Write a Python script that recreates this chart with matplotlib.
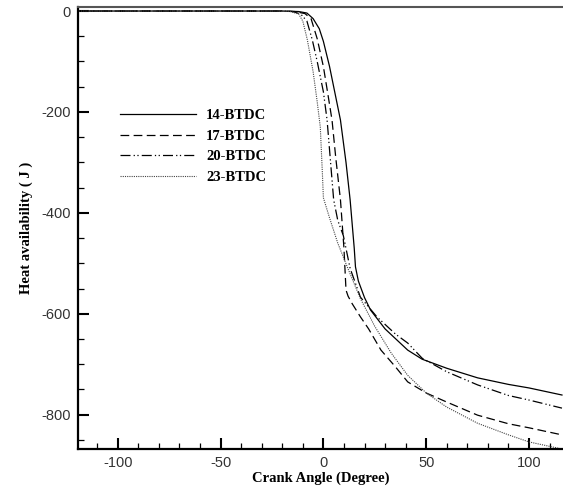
import numpy as np
import matplotlib
matplotlib.use("Agg")
import matplotlib.pyplot as plt
from matplotlib.ticker import MultipleLocator

plt.rcParams['axes.unicode_minus'] = False

# valeurs (angle vilebrequin, disponibilite de chaleur)
x14 = [-120, -20, -12, -8, -5, -2, 0, 3, 6, 8.3, 11, 13, 15, 15.6, 17, 20, 23, 30, 41, 48, 60, 75, 90, 100, 116]
y14 = [0, 0, -1, -4, -15, -35, -60, -110, -170, -216, -300, -374, -470, -507, -535, -568, -593, -630, -672, -690, -708, -727, -740, -747, -761]

x17 = [-120, -20, -14, -9, -6, -3, 0, 2, 4.2, 6, 8.3, 10, 11, 12, 14, 18, 22, 28, 35, 41, 50, 60, 75, 90, 100, 116]
y17 = [0, 0, -1, -5, -15, -55, -110, -160, -216, -290, -374, -470, -553, -565, -580, -606, -630, -672, -705, -735, -757, -775, -801, -818, -826, -840]

x20 = [-120, -20, -15, -11, -8, -5.4, -3, 0, 1.8, 3.5, 5, 7, 9.7, 13, 18, 26, 35, 41, 48, 60, 75, 90, 100, 116]
y20 = [0, 0, -1, -6, -20, -57, -100, -160, -216, -300, -374, -415, -445, -510, -567, -606, -640, -658, -688, -715, -741, -762, -771, -787]

x23 = [-120, -22, -16, -12, -10, -7.8, -5, -3, -1.5, -0.5, 0, 3, 7, 11.6, 18, 25, 33, 41, 50, 60, 75, 90, 100, 116]
y23 = [0, 0, -1, -6, -20, -57, -120, -180, -230, -320, -370, -410, -460, -507, -570, -625, -678, -722, -757, -785, -817, -840, -854, -868]

labels = ['14-BTDC', '17-BTDC', '20-BTDC', '23-BTDC']

serif = {'family': 'Liberation Serif', 'weight': 'bold', 'size': 10.5}

fig = plt.figure(figsize=(5.63, 4.93), dpi=100)
ax = fig.add_axes([78/563, 44/493, 1 - 78/563, (449-7)/493])

ax.plot(x14, y14, color='black', lw=0.9, linestyle='solid', label=labels[0])
ax.plot(x17, y17, color='black', lw=0.9, linestyle=(0, (7, 3.5)), label=labels[1])
ax.plot(x20, y20, color='black', lw=0.9, linestyle=(0, (8, 2.5, 1, 2, 1, 2.5)), label=labels[2])
ax.plot(x23, y23, color='#444444', lw=0.8, linestyle=(0, (1, 1)), label=labels[3])

ax.set_xlim(-119.3, 116.5)
ax.set_ylim(-868, 8)

ax.xaxis.set_major_locator(MultipleLocator(50))
ax.xaxis.set_minor_locator(MultipleLocator(10))
ax.yaxis.set_major_locator(MultipleLocator(200))
ax.yaxis.set_minor_locator(MultipleLocator(50))

ax.tick_params(which='major', direction='in', length=8, width=1.5, labelsize=10.5,
               labelcolor='#333333', pad=5)
ax.tick_params(which='minor', direction='in', length=4.5, width=0.9)
ax.tick_params(top=False, right=False, which='both')
for t in ax.get_xticklabels() + ax.get_yticklabels():
    t.set_fontfamily('Liberation Sans')

ax.spines['left'].set_linewidth(1.6)
ax.spines['bottom'].set_linewidth(1.6)
ax.spines['top'].set_linewidth(1.5)
ax.spines['top'].set_color('#555555')
ax.spines['right'].set_visible(False)

ax.set_xlabel('Crank Angle (Degree)', fontdict=serif, labelpad=1)
ax.set_ylabel('Heat availability ( J )', fontdict=serif, labelpad=6)

leg = ax.legend(loc='upper left', bbox_to_anchor=(120/563, 1 - 109/493),
                bbox_transform=fig.transFigure, frameon=False, borderpad=0,
                borderaxespad=0, handlelength=5.2, handletextpad=0.7,
                labelspacing=0.5, prop={'family': 'Liberation Serif', 'weight': 'bold', 'size': 10.5})

fig.savefig('out.png', dpi=100)
